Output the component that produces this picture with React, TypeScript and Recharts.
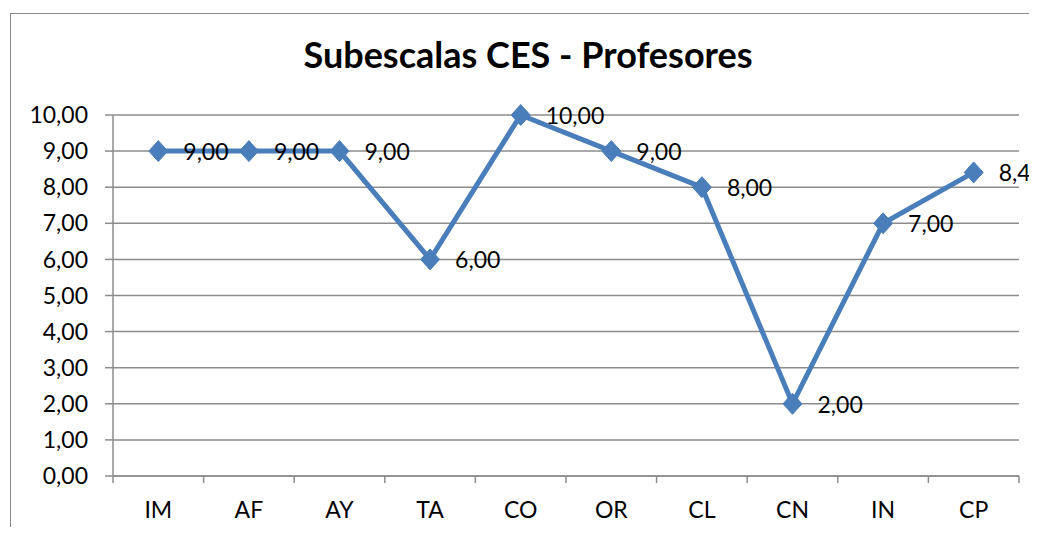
import React from 'react';
import { LineChart, Line, XAxis, YAxis, CartesianGrid, LabelList } from 'recharts';

const categories = ['IM', 'AF', 'AY', 'TA', 'CO', 'OR', 'CL', 'CN', 'IN', 'CP'];
const values = [9, 9, 9, 6, 10, 9, 8, 2, 7, 8.41];
const yTicks = [0, 1, 2, 3, 4, 5, 6, 7, 8, 9, 10];
const title = 'Subescalas CES - Profesores';

const data = categories.map((name, i) => ({ pos: i + 0.5, name, value: values[i] }));
const xTicks: number[] = [];
for (let i = 0; i <= categories.length; i++) {
  xTicks.push(i);
  if (i < categories.length) xTicks.push(i + 0.5);
}

const BLUE = '#4A7EBB';
const GRAY = '#8c8c8c';
const FONT = 'Lato, "Noto Sans", sans-serif';

const fmt = (v: number) => v.toFixed(2).replace('.', ',');

const Diamond = (props: any) => {
  const { cx, cy } = props;
  if (cx == null || cy == null) return null;
  const w = 9.5;
  const h = 10.5;
  return (
    <polygon
      points={`${cx},${cy - h} ${cx + w},${cy} ${cx},${cy + h} ${cx - w},${cy}`}
      fill={BLUE}
      stroke={BLUE}
      strokeWidth={1}
    />
  );
};

const XTick = (props: any) => {
  const { x, y, payload } = props;
  const v = payload.value as number;
  if (Number.isInteger(v)) {
    return <line x1={x} y1={y} x2={x} y2={y + 7} stroke={GRAY} strokeWidth={1.5} />;
  }
  const idx = Math.floor(v);
  return (
    <text x={x} y={y + 42} textAnchor="middle" fontFamily={FONT} fontSize={23} fill="#000">
      {categories[idx]}
    </text>
  );
};

const ValueLabel = (props: any) => {
  const { x, y, value } = props;
  return (
    <text x={x + 25} y={y} dominantBaseline="central" textAnchor="start" fontFamily={FONT} fontSize={23} fill="#000">
      {fmt(value)}
    </text>
  );
};

export default function App() {
  return (
    <div style={{ position: 'relative', width: 1021, height: 519 }}>
      <style>{'html,body{overflow:hidden}.recharts-surface,.recharts-wrapper{overflow:visible !important}'}</style>
      <div
        style={{
          position: 'absolute',
          left: 2,
          top: 5,
          width: 1060,
          height: 560,
          borderLeft: '1.5px solid #8a8a8a',
          borderTop: '1.5px solid #8a8a8a',
          pointerEvents: 'none',
        }}
      />
      <div
        style={{
          position: 'absolute',
          left: 0,
          width: 1040,
          top: 24,
          textAlign: 'center',
          fontFamily: FONT,
          fontWeight: 700,
          fontSize: 36,
          lineHeight: '44px',
          color: '#000',
        }}
      >
        {title}
      </div>
      <LineChart
        width={1029}
        height={519}
        data={data}
        margin={{ top: 107, right: 18, left: 0, bottom: 0 }}
        style={{ position: 'absolute', left: 0, top: 0 }}
      >
        <CartesianGrid vertical={false} stroke={GRAY} strokeWidth={1.5} />
        <XAxis
          dataKey="pos"
          type="number"
          domain={[0, categories.length]}
          ticks={xTicks}
          interval={0}
          height={51}
          tickSize={0}
          tickMargin={0}
          tickLine={false}
          axisLine={{ stroke: GRAY, strokeWidth: 1.5 }}
          tick={<XTick />}
          allowDecimals
        />
        <YAxis
          type="number"
          domain={[0, 10]}
          ticks={yTicks}
          interval={0}
          width={105}
          tickSize={8}
          tickMargin={17}
          tickFormatter={fmt}
          axisLine={{ stroke: GRAY, strokeWidth: 1.5 }}
          tickLine={{ stroke: GRAY, strokeWidth: 1.5 }}
          tick={{ fontFamily: FONT, fontSize: 23, fill: '#000' }}
        />
        <Line
          dataKey="value"
          stroke={BLUE}
          strokeWidth={5}
          dot={<Diamond />}
          activeDot={false}
          isAnimationActive={false}
        >
          <LabelList dataKey="value" content={<ValueLabel />} />
        </Line>
      </LineChart>
    </div>
  );
}
